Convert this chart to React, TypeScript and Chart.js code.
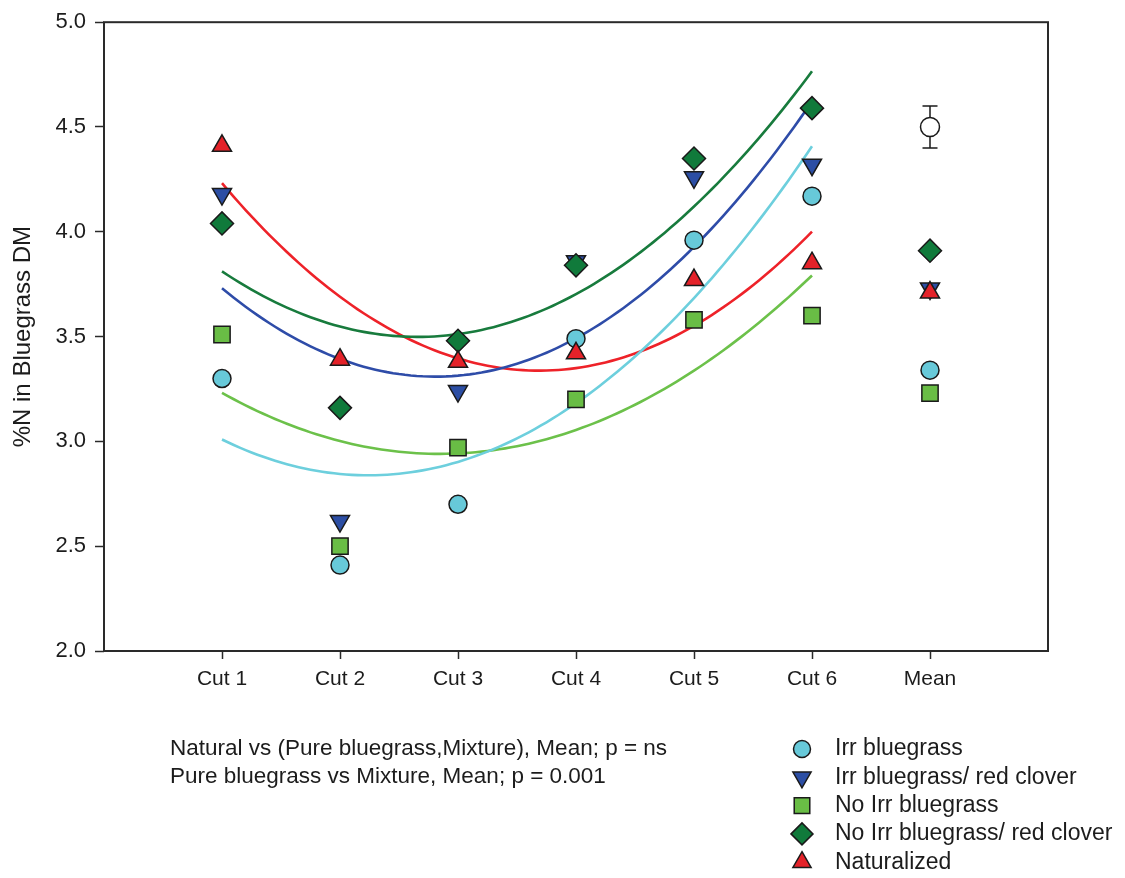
import React, { useEffect, useRef } from "react";
import { Chart, registerables } from "chart.js";
import { drawPoint } from "chart.js/helpers";

Chart.register(...registerables);

// ---------- data ----------
const categories = ["Cut 1", "Cut 2", "Cut 3", "Cut 4", "Cut 5", "Cut 6", "Mean"];
const seriesNames = [
  "Irr bluegrass",
  "Irr bluegrass/ red clover",
  "No Irr bluegrass",
  "No Irr bluegrass/ red clover",
  "Naturalized",
];
const irrBluegrass = [3.3, 2.41, 2.7, 3.49, 3.96, 4.17, 3.34];
const irrRedClover = [4.18, 2.62, 3.24, 3.86, 4.26, 4.32, 3.73];
const noIrrBluegrass = [3.51, 2.5, 2.97, 3.2, 3.58, 3.6, 3.23];
const noIrrRedClover = [4.04, 3.16, 3.48, 3.84, 4.35, 4.59, 3.91];
const naturalized = [4.41, 3.39, 3.38, 3.42, 3.77, 3.85, 3.71];
const overallMean = [4.5];
const overallErr = [0.1];
const yTickValues = [2.0, 2.5, 3.0, 3.5, 4.0, 4.5, 5.0];
const notes = [
  "Natural vs (Pure bluegrass,Mixture), Mean; p = ns",
  "Pure bluegrass vs Mixture, Mean; p = 0.001",
];

const seriesValues = [irrBluegrass, irrRedClover, noIrrBluegrass, noIrrRedClover, naturalized];

// ---------- styles ----------
const FONT = "'Liberation Sans', Arial, Helvetica, sans-serif";
const TEXT = "#1c1c1c";
const EDGE = "#1a1a1a";
const markerFill = ["#67C9D9", "#2C4EA4", "#69BD45", "#107A3B", "#E42229"];
const curveColor = ["#6DCFDD", "#2E4CA8", "#6CC14A", "#187B3D", "#EE2229"];
const markerStyle = ["circle", "triangle", "rect", "rectRot", "triangle"];
const markerRot = [0, 180, 0, 0, 0];
const markerRadius = [9, 11, 11.5, 11.5, 11];

// least-squares quadratic fit of the six cut values (as drawn in the original)
function quadFit(vals: number[]) {
  const xs = vals.map((_, i) => i + 1);
  const n = xs.length;
  const s = [0, 0, 0, 0, 0];
  const t = [0, 0, 0];
  for (let i = 0; i < n; i++) {
    const x = xs[i];
    const y = vals[i];
    for (let k = 0; k <= 4; k++) s[k] += Math.pow(x, k);
    for (let k = 0; k <= 2; k++) t[k] += Math.pow(x, k) * y;
  }
  const A = [
    [s[0], s[1], s[2], t[0]],
    [s[1], s[2], s[3], t[1]],
    [s[2], s[3], s[4], t[2]],
  ];
  for (let c = 0; c < 3; c++) {
    for (let r = c + 1; r < 3; r++) {
      const f = A[r][c] / A[c][c];
      for (let k = c; k < 4; k++) A[r][k] -= f * A[c][k];
    }
  }
  const b = [0, 0, 0];
  for (let r = 2; r >= 0; r--) {
    let v = A[r][3];
    for (let k = r + 1; k < 3; k++) v -= A[r][k] * b[k];
    b[r] = v / A[r][r];
  }
  const pts: { x: number; y: number }[] = [];
  for (let i = 0; i <= 100; i++) {
    const x = 1 + (5 * i) / 100;
    pts.push({ x, y: b[0] + b[1] * x + b[2] * x * x });
  }
  return pts;
}

const extrasPlugin = {
  id: "extras",
  beforeDatasetsDraw(chart: any) {
    const { ctx, scales } = chart;
    const x = scales.x;
    const y = scales.y;
    const px = x.getPixelForValue(categories.length);
    const top = y.getPixelForValue(overallMean[0] + overallErr[0]);
    const bot = y.getPixelForValue(overallMean[0] - overallErr[0]);
    ctx.save();
    ctx.strokeStyle = EDGE;
    ctx.lineWidth = 1.5;
    ctx.beginPath();
    ctx.moveTo(px, top);
    ctx.lineTo(px, bot);
    ctx.moveTo(px - 7.5, top);
    ctx.lineTo(px + 7.5, top);
    ctx.moveTo(px - 7.5, bot);
    ctx.lineTo(px + 7.5, bot);
    ctx.stroke();
    ctx.restore();
  },
  afterDraw(chart: any) {
    const { ctx, chartArea } = chart;
    ctx.save();
    ctx.strokeStyle = "#2a2a2a";
    ctx.lineWidth = 2;
    ctx.strokeRect(chartArea.left, chartArea.top, chartArea.right - chartArea.left, chartArea.bottom - chartArea.top);

    // notes
    ctx.fillStyle = TEXT;
    ctx.font = `22.5px ${FONT}`;
    ctx.textBaseline = "middle";
    ctx.textAlign = "left";
    notes.forEach((t, i) => ctx.fillText(t, 170, 749 + i * 28));

    // legend
    ctx.font = `23px ${FONT}`;
    seriesNames.forEach((name, i) => {
      const yy = 749 + i * 28.3;
      ctx.fillStyle = markerFill[i];
      ctx.strokeStyle = EDGE;
      ctx.lineWidth = 1.5;
      drawPoint(ctx, { pointStyle: markerStyle[i], rotation: markerRot[i], radius: markerRadius[i] - 0.5, borderWidth: 1.5 }, 802, yy);
      ctx.fillStyle = TEXT;
      ctx.fillText(name, 835, yy);
    });
    ctx.restore();
  },
};

export default function App() {
  const ref = useRef<HTMLCanvasElement | null>(null);
  useEffect(() => {
    if (!ref.current) return;
    const datasets: any[] = [];
    seriesNames.forEach((name, i) => {
      datasets.push({
        type: "scatter",
        label: name,
        data: seriesValues[i].map((v, j) => ({ x: j + 1, y: v })),
        pointStyle: markerStyle[i],
        rotation: markerRot[i],
        pointRadius: markerRadius[i],
        backgroundColor: markerFill[i],
        borderColor: EDGE,
        borderWidth: 1.5,
        showLine: false,
        order: 5 - i,
      });
    });
    seriesNames.forEach((name, i) => {
      datasets.push({
        type: "line",
        label: name + " fit",
        data: quadFit(seriesValues[i].slice(0, 6)),
        borderColor: curveColor[i],
        borderWidth: 2.6,
        pointRadius: 0,
        fill: false,
        tension: 0,
        order: 10,
      });
    });
    datasets.push({
      type: "scatter",
      label: "Overall mean",
      data: overallMean.map((v) => ({ x: categories.length, y: v })),
      pointStyle: "circle",
      pointRadius: 9.5,
      backgroundColor: "#ffffff",
      borderColor: EDGE,
      borderWidth: 1.5,
      order: 0,
    });

    const chart = new Chart(ref.current, {
      type: "scatter",
      data: { datasets },
      options: {
        animation: false,
        responsive: false,
        devicePixelRatio: 1,
        layout: { padding: { left: 0, top: 18, right: 77, bottom: 0 } },
        plugins: { legend: { display: false }, tooltip: { enabled: false } },
        scales: {
          x: {
            type: "linear",
            min: 0,
            max: categories.length + 1,
            afterBuildTicks: (scale: any) => {
              scale.ticks = categories.map((_, i) => ({ value: i + 1 }));
            },
            afterFit: (scale: any) => {
              scale.height = 878 - 651;
            },
            ticks: {
              autoSkip: false,
              maxRotation: 0,
              padding: 8,
              color: TEXT,
              font: { family: FONT, size: 21 },
              callback: (v: any) => categories[Math.round(Number(v)) - 1] ?? "",
            },
            grid: { drawOnChartArea: false, drawTicks: true, tickLength: 8, tickColor: "#2a2a2a", tickWidth: 1.5 },
            border: { display: false },
          },
          y: {
            type: "linear",
            min: 2,
            max: 5,
            afterBuildTicks: (scale: any) => {
              scale.ticks = yTickValues.map((v) => ({ value: v }));
            },
            afterFit: (scale: any) => {
              scale.width = 104;
            },
            ticks: {
              padding: 9,
              color: TEXT,
              font: { family: FONT, size: 22 },
              callback: (v: any) => Number(v).toFixed(1),
            },
            grid: { drawOnChartArea: false, drawTicks: true, tickLength: 9, tickColor: "#2a2a2a", tickWidth: 1.5 },
            border: { display: false },
            title: {
              display: true,
              text: "%N in Bluegrass DM",
              color: TEXT,
              font: { family: FONT, size: 24 },
              padding: { top: 9, bottom: 0 },
            },
          },
        },
      },
      plugins: [extrasPlugin],
    } as any);
    return () => chart.destroy();
  }, []);

  return (
    <div style={{ position: "absolute", left: 0, top: 0, width: 1125, height: 878, background: "#ffffff" }}>
      <canvas ref={ref} width={1125} height={878} style={{ display: "block" }} />
    </div>
  );
}
